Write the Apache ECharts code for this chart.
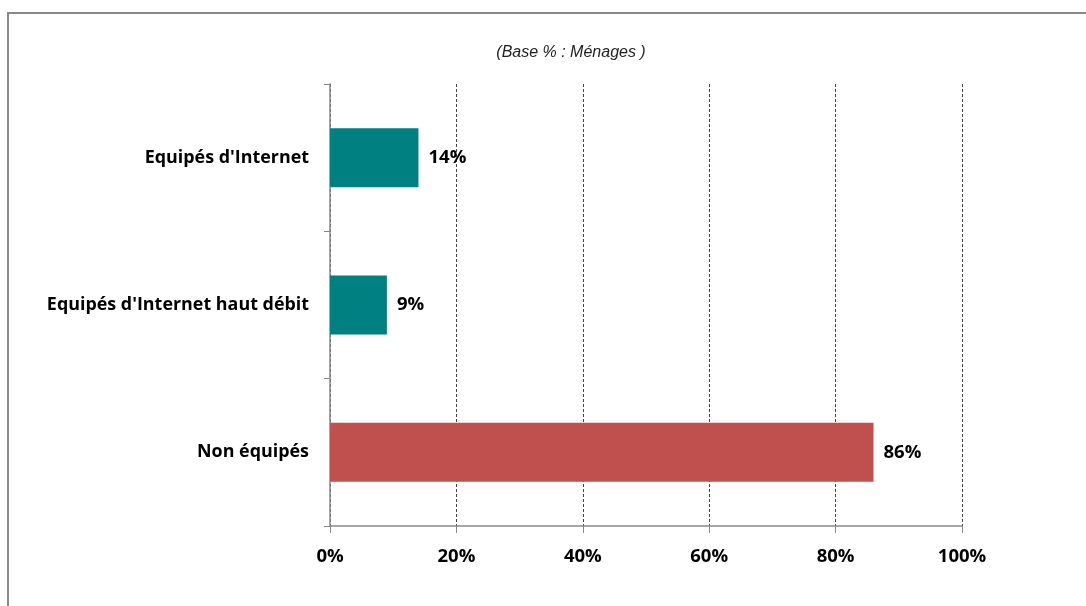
<!DOCTYPE html>
<html><head><meta charset="utf-8">
<script src="https://cdn.jsdelivr.net/npm/echarts@6/dist/echarts.min.js"></script>
<style>html,body{margin:0;padding:0;background:#fff}#c{width:1086px;height:606px}</style>
</head><body><div id="c"></div>
<script>
const categories = ["Equipés d'Internet", "Equipés d'Internet haut débit", "Non équipés"];
const values = [14, 9, 86];
const barColors = ["#008080", "#008080", "#C0504D"];
const xTicks = [0, 20, 40, 60, 80, 100];
const subtitle = "(Base % : Ménages )";

const chart = echarts.init(document.getElementById('c'));
const font = "'Open Sans', 'Liberation Sans', sans-serif";
chart.setOption({
  animation: false,
  title: {
    text: subtitle, left: 566, top: 40, textAlign: 'center',
    textStyle: { fontFamily: "'Liberation Sans', Arial, sans-serif", fontStyle: 'italic', fontWeight: 'normal', fontSize: 16, color: '#222' }
  },
  graphic: [{
    type: 'rect', silent: true, z: -1,
    shape: { x: 8, y: 13, width: 1200, height: 700 },
    style: { fill: 'none', stroke: '#888', lineWidth: 2 }
  }],
  grid: { left: 330, right: 124, top: 84, bottom: 80 },
  xAxis: {
    type: 'value', min: xTicks[0], max: xTicks[xTicks.length - 1], interval: 20,
    axisLine: { show: true, lineStyle: { color: '#888', width: 1.5 } },
    axisTick: { show: true, length: 7, lineStyle: { color: '#888' } },
    axisLabel: { formatter: '{value}%', margin: 21, fontFamily: font, fontWeight: 'bold', fontSize: 18.5, color: '#000' },
    splitLine: { show: true, lineStyle: { type: [3, 2], color: '#444', width: 1 } }
  },
  yAxis: {
    type: 'category', data: categories, inverse: true,
    axisLine: { show: true, lineStyle: { color: '#888', width: 1.5 } },
    axisTick: { show: true, length: 6, lineStyle: { color: '#888' } },
    axisLabel: { margin: 21, fontFamily: font, fontWeight: 'bold', fontSize: 17.9, color: '#000' }
  },
  series: [{
    type: 'bar', barWidth: '40%',
    data: values.map((v, i) => ({ value: v, itemStyle: { color: barColors[i] } })),
    label: { show: true, position: 'right', distance: 10, formatter: '{c}%', fontFamily: font, fontWeight: 'bold', fontSize: 18.5, color: '#000' }
  }]
});
</script></body></html>
